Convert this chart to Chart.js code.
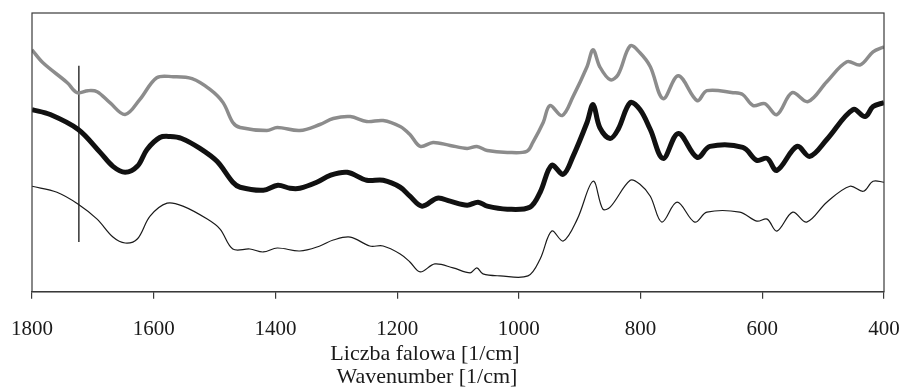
<!DOCTYPE html>
<html>
<head>
<meta charset="utf-8">
<script src="https://cdn.jsdelivr.net/npm/chart.js@4/dist/chart.umd.min.js"></script>
<style>
  html,body{margin:0;padding:0;background:#fff;}
  #wrap{width:903px;height:390px;}
</style>
</head>
<body>
<div id="wrap"><canvas id="irChart" width="903" height="390"></canvas></div>
<script>
// wavenumber ticks, axis titles
const xTicks = [1800, 1600, 1400, 1200, 1000, 800, 600, 400];
const xTitle = ['Liczba falowa [1/cm]', 'Wavenumber [1/cm]'];

// top spectrum (grey)
const topWn  = [1800,1782,1742,1726,1708,1693,1672,1647,1623,1595,1568,1537,1507,1486,1470,1458,1414,1397,1360,1327,1305,1277,1250,1223,1195,1179,1162,1141,1113,1085,1069,1052,1019,987,977,960,949,929,911,888,878,867,850,837,817,801,784,763,738,707,691,648,632,615,596,576,551,525,494,461,439,418,400];
const topVal = [243,230,210,200,202,201,190,178,193,215,216,214,203,190,170,165,162,165,162,168,174,176,171,172,166,158,146,150,147,144,146,142,140,141,150,170,187,177,196,226,243,226,213,218,247,240,226,194,217,192,202,200,198,187,189,178,200,191,211,231,228,241,246];

// middle spectrum (thick black)
const midWn  = [1800,1770,1724,1688,1667,1647,1627,1611,1590,1573,1554,1524,1496,1470,1458,1420,1396,1376,1360,1332,1310,1282,1250,1223,1195,1179,1159,1134,1113,1085,1067,1052,1019,982,965,946,927,911,888,878,867,850,837,817,801,784,763,738,707,686,632,609,592,576,543,522,494,451,431,418,400];
const midVal = [183,178,163,140,126,120,126,143,155,156,154,144,131,110,105,102,107,104,104,110,117,120,112,112,105,96,86,94,91,87,90,86,83,85,100,127,118,136,170,188,165,154,163,190,183,163,134,159,135,146,145,132,134,122,146,136,153,183,176,186,190];

// bottom spectrum (thin black)
const botWn  = [1800,1759,1724,1693,1667,1647,1627,1606,1578,1552,1512,1491,1470,1442,1420,1397,1360,1327,1305,1277,1245,1223,1195,1179,1162,1138,1108,1080,1069,1059,1031,985,965,946,927,904,878,862,850,817,801,784,765,740,711,691,637,609,592,576,550,527,494,456,434,418,400];
const botVal = [106,100,88,73,55,49,53,76,89,86,73,63,43,43,40,44,41,46,52,55,46,46,38,30,20,28,24,19,24,18,16,16,33,61,51,73,111,83,85,112,108,96,70,90,70,80,80,71,73,61,80,70,90,106,101,111,110];

// marker line near 1723
const markWn  = [1723, 1723];
const markVal = [227, 50];

function pts(xs, ys){
  return xs.map((x,i)=>({x, y: ys[i]}));
}

const serif = '"Liberation Serif", "Times New Roman", serif';

const frame = {
  id:'frame',
  afterDraw(chart){
    const {ctx, chartArea:a} = chart;
    ctx.save();
    ctx.strokeStyle = '#3a3a3a';
    ctx.lineWidth = 1.2;
    ctx.strokeRect(a.left, a.top, a.right - a.left, a.bottom - a.top);
    ctx.fillStyle = '#1a1a1a';
    ctx.font = '22px ' + serif;
    ctx.textAlign = 'center';
    ctx.textBaseline = 'middle';
    ctx.fillText(xTitle[0], 425, 354);
    ctx.fillText(xTitle[1], 427, 377);
    ctx.restore();
  }
};

const line = (data, color, width, dash) => ({
  data, borderColor: color, borderWidth: width, borderDash: dash || [],
  pointRadius: 0, fill: false, tension: 0.35
});

new Chart(document.getElementById('irChart'), {
  type: 'line',
  data: {
    datasets: [
      line(pts(topWn, topVal), '#8c8c8c', 3.5),
      line(pts(topWn, topVal), '#f2f2f2', 1, [1, 2]),
      line(pts(midWn, midVal), '#111', 5),
      line(pts(midWn, midVal), '#fff', 1.6, [1.5, 2.5]),
      line(pts(botWn, botVal), '#1a1a1a', 1.2),
      { data: pts(markWn, markVal), borderColor: '#333', borderWidth: 1.5, pointRadius: 0, tension: 0 }
    ]
  },
  options: {
    responsive: false,
    animation: false,
    layout: { padding: { left: 32, right: 19, top: 13, bottom: 30 } },
    plugins: { legend: { display: false }, tooltip: { enabled: false } },
    scales: {
      x: {
        type: 'linear', reverse: true, min: 400, max: 1800,
        afterBuildTicks: s => { s.ticks = xTicks.map(v => ({ value: v })); },
        afterFit: s => { s.paddingLeft = 0; s.paddingRight = 0; },
        grid: { display: true, drawOnChartArea: false, drawTicks: true, tickLength: 7, color: '#3a3a3a', lineWidth: 1.2 },
        border: { display: true, color: '#3a3a3a', width: 1.2 },
        ticks: { color: '#1a1a1a', padding: 18, maxRotation: 0, autoSkip: false,
          callback: v => String(v),
          font: { family: serif, size: 21 } }
      },
      y: { display: false, min: 0, max: 280 }
    }
  },
  plugins: [frame]
});
</script>
</body>
</html>
